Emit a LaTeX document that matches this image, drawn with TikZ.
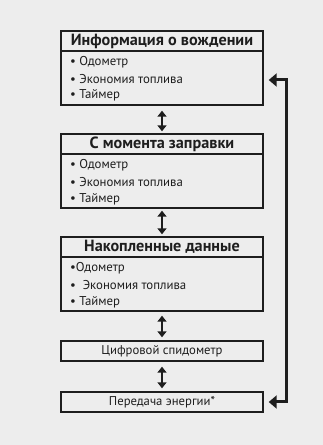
\documentclass[tikz,border=0pt]{standalone}
\usepackage{fontspec}
\setmainfont{PT Sans}
\usetikzlibrary{arrows.meta,calc}
\definecolor{bg}{HTML}{EDEDED}
\definecolor{ink}{HTML}{1E1E1E}
\tikzset{
  x=1pt,y=1pt,
  panel/.style={draw=ink,line width=1.4pt,minimum width=202pt,inner sep=0pt},
  titletext/.style={font=\bfseries\fontsize{16.2}{17}\selectfont,text=ink},
  itemtext/.style={font=\fontsize{12.8}{13}\selectfont,text=ink,anchor=west,inner sep=0pt},
  smalltext/.style={font=\fontsize{12.7}{13}\selectfont,text=ink},
  dbl/.style={draw=ink,line width=2pt,{Triangle[length=6pt,width=9pt]}-{Triangle[length=6pt,width=9pt]}},
  fb/.style={draw=ink,line width=3pt,{Triangle[length=8pt,width=13pt]}-{Triangle[length=8pt,width=13pt]}}
}
\begin{document}
\begin{tikzpicture}
\fill[bg] (0,0) rectangle (323,445);
\useasboundingbox (0,0) rectangle (323,445);
% box 1
\node[panel,minimum height=74pt] (b1) at (162,445-68) {};
\node[panel,minimum height=20pt,titletext] (t1) at (162,445-41) {Информация о вождении};
\node[itemtext] (b1i1) at (70,445-62) {• Одометр};
\node[itemtext] (b1i2) at (70,445-79) {• Экономия топлива};
\node[itemtext] (b1i3) at (70,445-95) {• Таймер};
% box 2
\node[panel,minimum height=74pt] (b2) at (162,445-171) {};
\node[panel,minimum height=20pt,titletext] (t2) at (162,445-144) {С момента заправки};
\node[itemtext] (b2i1) at (70,445-165) {• Одометр};
\node[itemtext] (b2i2) at (70,445-182) {• Экономия топлива};
\node[itemtext] (b2i3) at (70,445-199) {• Таймер};
% box 3
\node[panel,minimum height=74pt] (b3) at (162,445-274) {};
\node[panel,minimum height=20pt,titletext] (t3) at (162,445-247) {Накопленные данные};
\node[itemtext] (b3i1) at (70,445-268) {•Одометр};
\node[itemtext] (b3i2) at (70,445-285) {•\ \ Экономия топлива};
\node[itemtext] (b3i3) at (70,445-302) {• Таймер};
% box 4
\node[panel,minimum height=20pt,smalltext] (b4) at (162,445-351) {Цифровой спидометр};
% box 5
\node[panel,minimum height=20pt,smalltext] (b5) at (162,445-402) {Передача энергии*};
% double arrows
\draw[dbl] ([yshift=-5pt]b1.south) -- ([yshift=2pt]t2.north);
\draw[dbl] ([yshift=-2pt]b2.south) -- ([yshift=2pt]t3.north);
\draw[dbl] ([yshift=-4pt]b3.south) -- ([yshift=3pt]b4.north);
\draw[dbl] ([yshift=-5pt]b4.south) -- ([yshift=3pt]b5.north);
% feedback
\coordinate (fbtop) at ([xshift=5pt,yshift=-12pt]b1.east);
\coordinate (fbbot) at ([xshift=5pt]b5.east);
\draw[fb] (fbtop) -- ++(18,0) |- (fbbot);
\end{tikzpicture}
\end{document}
